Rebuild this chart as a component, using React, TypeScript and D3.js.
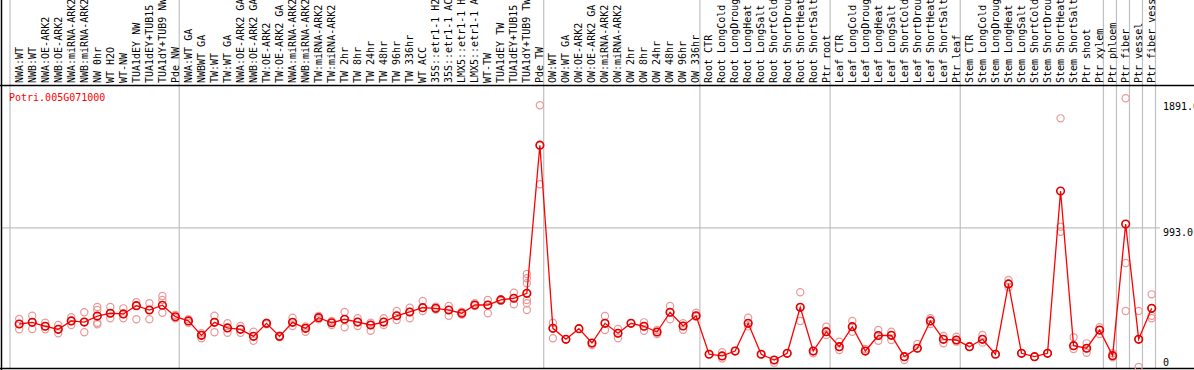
import React from "react";
import * as d3 from "d3";

const title = "Potri.005G071000";

const labels = [
  "NWA:WT", "NWB:WT", "NWA:OE-ARK2", "NWB:OE-ARK2", "NWA:miRNA-ARK2", "NWB:miRNA-ARK2",
  "NW 0hr", "WT H2O", "WT-NW", "TUA1dEY NW", "TUA1dEY+TUB15", "TUA1dY+TUB9 NW", "Pde NW",
  "NWA:WT GA", "NWBWT GA", "TW:WT", "TW:WT GA", "NWA:OE-ARK2 GA", "NWB:OE-ARK2 GA",
  "TW:OE-ARK2", "TW:OE-ARK2 GA", "NWA:miRNA-ARK2", "NWB:miRNA-ARK2", "TW:miRNA-ARK2", "TW:miRNA-ARK2",
  "TW 2hr", "TW 8hr", "TW 24hr", "TW 48hr", "TW 96hr", "TW 336hr", "WT ACC",
  "35S::etr1-1 H2O", "35S::etr1-1 ACC", "LMX5::etr1-1 H2O", "LMX5::etr1-1 ACC",
  "WT-TW", "TUA1dEY TW", "TUA1dEY+TUB15 TW", "TUA1dY+TUB9 TW", "Pde TW",
  "OW:WT", "OW:WT GA", "OW:OE-ARK2", "OW:OE-ARK2 GA", "OW:miRNA-ARK2", "OW:miRNA-ARK2",
  "OW 2hr", "OW 8hr", "OW 24hr", "OW 48hr", "OW 96hr", "OW 336hr",
  "Root CTR", "Root LongCold", "Root LongDrought", "Root LongHeat", "Root LongSalt",
  "Root ShortCold", "Root ShortDrought", "Root ShortHeat", "Root ShortSalt", "Ptr root",
  "Leaf CTR", "Leaf LongCold", "Leaf LongDrought", "Leaf LongHeat", "Leaf LongSalt",
  "Leaf ShortCold", "Leaf ShortDrought", "Leaf ShortHeat", "Leaf ShortSalt", "Ptr leaf",
  "Stem CTR", "Stem LongCold", "Stem LongDrought", "Stem LongHeat", "Stem LongSalt",
  "Stem ShortCold", "Stem ShortDrought", "Stem ShortHeat", "Stem ShortSalt", "Ptr shoot", "Ptr xylem",
  "Ptr phloem", "Ptr fiber", "Ptr vessel", "Ptr fiber vessel",
];

const means = [
  307, 319, 291, 269, 329, 321, 364, 384, 379, 438, 407, 441, 359,
  329, 226, 319, 279, 269, 219, 312, 219, 319, 276, 352, 316, 341, 321, 300, 321, 366,
  393, 424, 419, 407, 384, 443, 443, 479, 491, 526, 1584,
  276, 198, 274, 171, 312, 241, 312, 291, 250, 391, 293, 366,
  91, 79, 114, 312, 91, 50, 98, 426, 114, 252,
  145, 288, 114, 225, 226, 74, 134, 329, 198, 193,
  145, 198, 91, 593, 98, 74, 98, 1257, 152, 134, 264,
  81, 1021, 198, 419,
];

const replicates = [
  [343, 307, 269], [366, 319, 271], [316, 291, 269], [300, 269, 241], [355, 329, 300],
  [391, 321, 248], [429, 407, 316, 305], [429, 384, 348], [419, 379, 348], [462, 438, 341],
  [455, 407, 341], [507, 479, 388], [371, 348],
  [341, 316], [241, 226, 205], [366, 319, 248], [312, 279, 245], [293, 269, 245],
  [252, 219, 188], [316, 312, 305], [224, 219, 212], [352, 319, 293], [276, 252, 290],
  [364, 352, 340], [329, 316, 300], [393, 341, 284], [348, 321, 293], [316, 300, 259],
  [348, 321, 300], [400, 366, 336], [424, 393, 348], [471, 424, 400], [431, 419, 410],
  [436, 407, 366], [395, 384, 375], [455, 443, 435], [479, 443, 384], [485, 479, 472],
  [531, 491, 448], [664, 634, 598, 526, 479, 455, 407], [1869, 1584, 1305],
  [316, 276, 205], [198], [274], [171, 157], [364, 312, 264], [271, 241, 205], [312],
  [319, 291, 259], [264, 250, 236], [436, 391, 341], [312, 293, 266], [388, 366, 359],
  [91], [105, 79, 60], [114], [352, 312, 290], [91], [50, 31], [98], [534, 426, 329],
  [114, 98], [288, 252, 229],
  [181, 145, 121], [329, 288, 252], [129, 114], [264, 225, 188], [252, 226, 193],
  [74, 50], [164, 134], [348, 329, 307], [221, 198, 169], [216, 193, 181],
  [145], [229, 198, 174], [91], [621, 593, 569], [98], [74], [98], [1776, 1002, 966],
  [212, 152, 129], [169, 134, 102], [284, 264, 236],
  [98, 81, 69], [1919, 743, 400], [400, 198, 0], [519, 419, 366, 348],
];

const dividerIndex = [0, 13, 41, 53, 63, 73, 84, 85, 86, 87, 88];
const tickValues = [1891, 993, 0];
const tickLabels = ["1891.0", "993.0", "0"];
const gridValues = [993];

const W = 1194;
const H = 370;
const FONT = "'DejaVu Sans Mono', monospace";

export default function App() {
  const idx = d3.range(labels.length);
  const x = d3.scaleBand<number>().domain(idx).range([10, 1155.5]).paddingInner(0).paddingOuter(0);
  const step = x.step();
  const y = d3.scaleLinear().domain([0, 2007]).range([367, 86]);
  const px = (i: number) => (x(i) as number) + 9.2;

  const line = d3
    .line<number>()
    .x((_, i) => px(i))
    .y((d) => y(d));

  const divX = (k: number) => 10 + step * k;

  return (
    <svg
      width={W}
      height={H}
      style={{ position: "absolute", left: 0, top: 0, background: "#fff" }}
      fontFamily={FONT}
    >
      <rect x={0} y={0} width={W} height={H} fill="#fff" />
      {dividerIndex.map((k) => (
        <line key={"d" + k} x1={divX(k)} x2={divX(k)} y1={0} y2={368} stroke="#c0c0c0" strokeWidth={1.2} />
      ))}
      {gridValues.map((v) => (
        <line key={"g" + v} x1={2} x2={1160} y1={y(v)} y2={y(v)} stroke="#c0c0c0" strokeWidth={1.2} />
      ))}
      <line x1={1.5} x2={1.5} y1={0} y2={370} stroke="#000" strokeWidth={1.5} />
      <line x1={0} x2={W} y1={85.5} y2={85.5} stroke="#000" strokeWidth={1.5} />
      <line x1={0} x2={W} y1={368.5} y2={368.5} stroke="#000" strokeWidth={1.5} />
      {labels.map((l, i) => (
        <text
          key={"l" + i}
          transform={`translate(${(x(i) as number) + 12.5},83) rotate(-90)`}
          fontSize={10}
          fill="#000"
        >
          {l}
        </text>
      ))}
      <text x={9} y={101} fontSize={10} fill="#ff0000">
        {title}
      </text>
      {tickValues.map((v, i) => (
        <text key={"t" + v} x={1163} y={Math.min(y(v) + 8, 365.5)} fontSize={10} fill="#000">
          {tickLabels[i]}
        </text>
      ))}
      {replicates.map((reps, i) =>
        reps.map((v, j) => (
          <circle
            key={`r${i}-${j}`}
            cx={px(i)}
            cy={y(v)}
            r={3.6}
            fill="none"
            stroke="#eb9898"
            strokeWidth={1.2}
          />
        ))
      )}
      <path d={line(means) || ""} fill="none" stroke="#ff0000" strokeWidth={1.3} />
      {means.map((v, i) => (
        <circle key={"m" + i} cx={px(i)} cy={y(v)} r={3.8} fill="none" stroke="#e00000" strokeWidth={1.6} />
      ))}
    </svg>
  );
}
